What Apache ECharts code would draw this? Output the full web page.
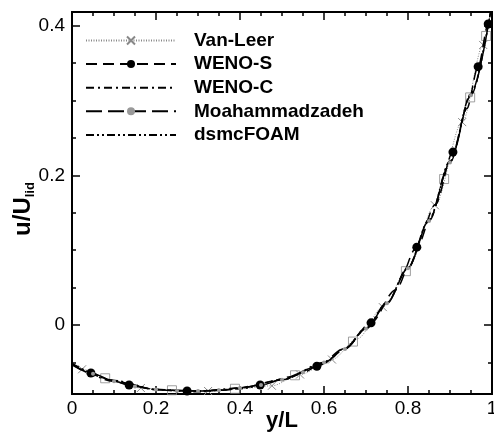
<!DOCTYPE html>
<html>
<head>
<meta charset="utf-8">
<script src="https://cdn.jsdelivr.net/npm/echarts@6/dist/echarts.min.js"></script>
<style>html,body{margin:0;padding:0;background:#fff}#c{width:494px;height:438px}</style>
</head>
<body>
<div id="c"></div>
<script>
// ---- data ----
const seriesNames = ['Van-Leer', 'WENO-S', 'WENO-C', 'Moahammadzadeh', 'dsmcFOAM'];

const vanLeerX = [0, 0.024, 0.09, 0.164, 0.24, 0.324, 0.4, 0.476, 0.543, 0.619, 0.68, 0.740, 0.8, 0.864, 0.929, 0.979, 1.0];
const vanLeerU = [-0.052, -0.059, -0.073, -0.084, -0.087, -0.088, -0.085, -0.081, -0.066, -0.046, -0.018, 0.024, 0.075, 0.160, 0.271, 0.374, 0.43];
const vanLeerMarks = [1, 3, 5, 7, 8, 9, 11, 13, 14, 15];

const wenoSX = [0, 0.045, 0.09, 0.136, 0.2, 0.274, 0.36, 0.448, 0.52, 0.583, 0.65, 0.712, 0.77, 0.821, 0.865, 0.907, 0.94, 0.967, 0.991, 1.0];
const wenoSU = [-0.052, -0.064, -0.073, -0.080, -0.086, -0.088, -0.087, -0.080, -0.069, -0.055, -0.031, 0.003, 0.047, 0.104, 0.161, 0.231, 0.289, 0.345, 0.402, 0.43];
const wenoSMarks = [1, 3, 5, 7, 9, 11, 13, 15, 17, 18];

const wenoCX = [0, 0.1, 0.2, 0.3, 0.4, 0.5, 0.6, 0.65, 0.7, 0.75, 0.8, 0.85, 0.9, 0.95, 1.0];
const wenoCU = [-0.052, -0.075, -0.086, -0.088, -0.084, -0.073, -0.050, -0.031, -0.004, 0.030, 0.077, 0.140, 0.218, 0.308, 0.43];

const moahX = [0, 0.05, 0.1, 0.15, 0.2, 0.25, 0.3, 0.35, 0.4, 0.45, 0.5, 0.55, 0.6, 0.65, 0.7, 0.75, 0.8, 0.85, 0.9, 0.95, 1.0];
const moahU = [-0.053, -0.065, -0.075, -0.082, -0.086, -0.088, -0.088, -0.087, -0.084, -0.080, -0.073, -0.063, -0.050, -0.032, -0.005, 0.029, 0.076, 0.139, 0.217, 0.307, 0.43];

const dsmcFoamX = [0, 0.1, 0.2, 0.3, 0.4, 0.5, 0.6, 0.65, 0.7, 0.75, 0.8, 0.85, 0.9, 0.95, 1.0];
const dsmcFoamU = [-0.051, -0.074, -0.086, -0.089, -0.085, -0.073, -0.051, -0.031, -0.004, 0.030, 0.077, 0.141, 0.219, 0.309, 0.43];

// open grey squares (reference points, not in legend)
const dsmcX = [0.079, 0.238, 0.388, 0.531, 0.669, 0.795, 0.886, 0.948, 0.986];
const dsmcU = [-0.071, -0.087, -0.085, -0.067, -0.022, 0.072, 0.195, 0.304, 0.386];

const yMajorTicks = [0, 0.2, 0.4];
const yMinorTicks = [-0.05, 0.05, 0.1, 0.15, 0.25, 0.3, 0.35];
const yMin = -0.092, yMax = 0.418;

// ---- build ----
const FONT = '"Liberation Sans", Arial, Helvetica, sans-serif';
function pts(xs, us, marks) {
  return xs.map((x, i) => {
    const item = { value: [x, us[i]] };
    if (marks && marks.indexOf(i) < 0) item.symbol = 'none';
    return item;
  });
}
const axisLineStyle = { color: '#000', width: 2 };
const tickStyle = { color: '#000', width: 1.5 };
const CLEAR = 'rgba(0,0,0,0)';

function xAxisCfg(pos, withLabels) {
  return {
    type: 'value', gridIndex: 0, position: pos, min: 0, max: 1, interval: 0.2,
    axisLine: { show: true, onZero: false, lineStyle: axisLineStyle },
    axisTick: { show: true, inside: true, length: 8, lineStyle: tickStyle },
    minorTick: { show: true, splitNumber: 4, length: 4, lineStyle: tickStyle },
    splitLine: { show: false }, minorSplitLine: { show: false },
    axisLabel: withLabels ? { show: true, fontSize: 19, color: '#000', margin: 5, fontFamily: FONT } : { show: false },
    name: withLabels ? 'y/L' : '',
    nameLocation: 'middle', nameGap: 16, nameMoveOverlap: false,
    nameTextStyle: { fontSize: 22, fontWeight: 'bold', color: '#000', fontFamily: FONT }
  };
}
function yAxisCfg(grid, pos, values, len, withLabels) {
  const o = {
    type: 'value', gridIndex: grid, position: pos, min: yMin, max: yMax,
    axisLine: { show: true, onZero: false, lineStyle: axisLineStyle },
    axisTick: { show: true, inside: true, length: len, lineStyle: tickStyle, customValues: values },
    splitLine: { show: false },
    axisLabel: withLabels ? { show: true, customValues: values, fontSize: 19, color: '#000', margin: 7, fontFamily: FONT } : { show: false }
  };
  if (withLabels) {
    o.name = 'u/U{sub|lid}';
    o.nameLocation = 'middle';
    o.nameGap = 49;
    o.nameMoveOverlap = false;
    o.nameTextStyle = {
      fontSize: 24, fontWeight: 'bold', color: '#000', fontFamily: FONT,
      lineHeight: 28, verticalAlign: 'middle', padding: [0, 12, 0, 0],
      rich: { sub: { fontSize: 13, fontWeight: 'bold', color: '#000', fontFamily: FONT, verticalAlign: 'bottom', lineHeight: 13 } }
    };
  }
  return o;
}

const gridBox = { left: 72, top: 12, right: 2, bottom: 44, containLabel: false, outerBoundsMode: 'none' };
const option = {
  animation: false,
  backgroundColor: '#fff',
  grid: [Object.assign({}, gridBox), Object.assign({}, gridBox)],
  legend: {
    orient: 'vertical', left: 80, top: 26, itemWidth: 90, itemHeight: 10, itemGap: 4.6,
    data: seriesNames,
    textStyle: { fontSize: 19, fontWeight: 'bold', color: '#000', fontFamily: FONT, padding: [0, 0, 0, 13] }
  },
  xAxis: [
    xAxisCfg('bottom', true),
    xAxisCfg('top', false),
    { type: 'value', gridIndex: 1, min: 0, max: 1, show: false }
  ],
  yAxis: [
    yAxisCfg(0, 'left', yMajorTicks, 8, true),
    yAxisCfg(0, 'right', yMajorTicks, 8, false),
    yAxisCfg(1, 'left', yMinorTicks, 4, false),
    yAxisCfg(1, 'right', yMinorTicks, 4, false)
  ],
  series: [
    {
      name: 'DSMC', type: 'scatter', xAxisIndex: 0, yAxisIndex: 0,
      symbol: 'rect', symbolSize: 9,
      itemStyle: { color: CLEAR, borderColor: '#888', borderWidth: 1 },
      data: dsmcX.map((x, i) => [x, dsmcU[i]]), z: 1
    },
    {
      name: 'Van-Leer', type: 'line', smooth: 0.3, smoothMonotone: 'x',
      symbol: 'path://M0,0L10,10M10,0L0,10', symbolSize: 8,
      itemStyle: { color: '#888', borderColor: '#888', borderWidth: 1 },
      lineStyle: { color: '#888', width: 1, type: [1, 1.5] },
      data: pts(vanLeerX, vanLeerU, vanLeerMarks), z: 2
    },
    {
      name: 'WENO-S', type: 'line', smooth: 0.3, smoothMonotone: 'x',
      symbol: 'circle', symbolSize: 9,
      itemStyle: { color: '#000' },
      lineStyle: { color: '#000', width: 1.5, type: [11, 6] },
      data: pts(wenoSX, wenoSU, wenoSMarks), z: 3
    },
    {
      name: 'WENO-C', type: 'line', smooth: 0.3, smoothMonotone: 'x',
      symbol: 'none',
      itemStyle: { color: CLEAR },
      lineStyle: { color: '#000', width: 1.5, type: [8, 4, 2, 4] },
      data: pts(wenoCX, wenoCU, null), z: 3
    },
    {
      name: 'Moahammadzadeh', type: 'line', smooth: 0.3, smoothMonotone: 'x',
      symbol: 'circle', symbolSize: 4,
      itemStyle: { color: '#999' },
      lineStyle: { color: '#000', width: 1.5, type: [16, 6] },
      data: pts(moahX, moahU, moahX.map((x, i) => i).slice(1, -1)), z: 3
    },
    {
      name: 'dsmcFOAM', type: 'line', smooth: 0.3, smoothMonotone: 'x',
      symbol: 'none',
      itemStyle: { color: CLEAR },
      lineStyle: { color: '#000', width: 1.5, type: [8, 3, 2, 3, 2, 3] },
      data: pts(dsmcFoamX, dsmcFoamU, null), z: 3
    }
  ]
};
const chart = echarts.init(document.getElementById('c'), null, { renderer: 'canvas' });
chart.setOption(option);
</script>
</body>
</html>
